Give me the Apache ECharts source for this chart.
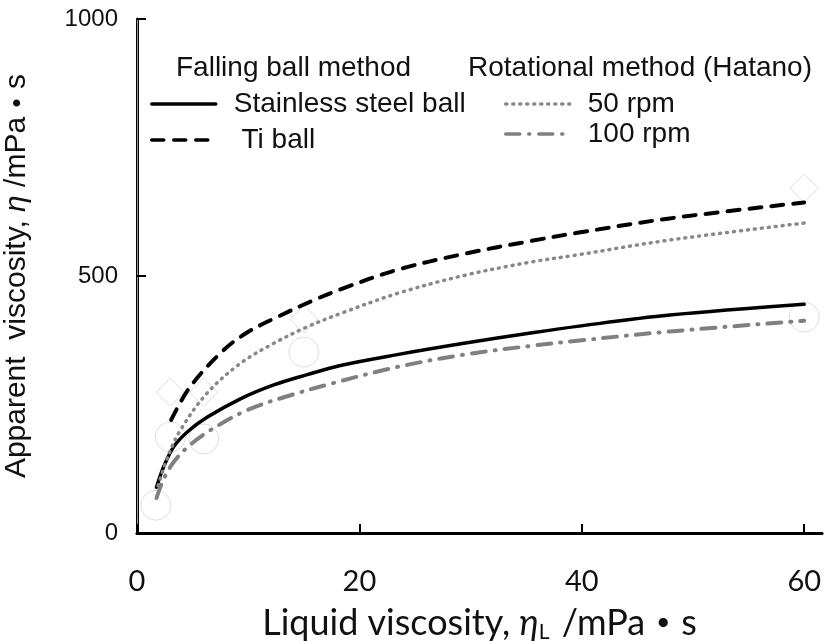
<!DOCTYPE html>
<html>
<head>
<meta charset="utf-8">
<script src="https://cdn.jsdelivr.net/npm/echarts@6/dist/echarts.min.js"></script>
<style>
  html, body { margin: 0; padding: 0; background: #fff; }
  #chart { width: 825px; height: 641px; }
</style>
</head>
<body>
<div id="chart"></div>
<script>
// fitted curves
var steelX = [1.75, 2.4, 3.3, 4.6, 6.3, 9.3, 12.3, 15.3, 18.3, 23.4, 29.4, 35.4, 39.6, 47.9, 60];
var steelY = [89, 129, 168, 198, 225, 261, 288, 308, 326, 347, 369, 389, 402, 424, 445];
var tiX = [3.07, 4.8, 7.8, 9.9, 12.3, 15.9, 18.3, 23.4, 29.4, 35.4, 39.6, 47.9, 60];
var tiY = [220, 285, 356, 390, 417, 453, 474, 512, 543, 568, 584, 612, 643];
var rpm50X = [1.9, 2.8, 3.9, 6.3, 9.3, 12.3, 15.3, 18.3, 23.4, 29.4, 35.4, 39.6, 47.9, 60];
var rpm50Y = [92, 150, 200, 272, 330, 369, 401, 427, 466, 501, 527, 541, 570, 603];
var rpm100X = [1.75, 2.4, 3.3, 4.6, 6.6, 9.9, 13.8, 17.7, 23.4, 29.4, 35.4, 39.6, 47.9, 60];
var rpm100Y = [68, 105, 138, 168, 200, 239, 268, 292, 323, 347, 364, 374, 392, 413];

// measured points (faint open markers)
var circleX = [1.7, 3, 6, 15, 60];
var circleY = [54, 187, 183, 352, 420];
var diamondX = [3, 6, 15, 60];
var diamondY = [274, 274, 416, 671];

var xTicks = [0, 20, 40, 60];
var yTicks = [0, 500, 1000];

function pairs(xs, ys) {
  var res = [];
  for (var i = 0; i < xs.length; i++) {
    res.push([xs[i], ys[i]]);
  }
  return res;
}

var chart = echarts.init(document.getElementById('chart'));
var font = 'Liberation Sans, Arial, sans-serif';
var xfont = 'Lato, sans-serif';

function lineSeries(name, xs, ys, color, width, type) {
  return {
    name: name,
    type: 'line',
    smooth: 0.35,
    symbol: 'none',
    showSymbol: false,
    z: 5,
    data: pairs(xs, ys),
    lineStyle: { color: color, width: width, type: type, cap: 'round' },
    itemStyle: { color: color }
  };
}

function legendAt(name, left, top, fmt) {
  return {
    data: [name],
    left: left,
    top: top,
    padding: 0,
    itemWidth: 64,
    itemHeight: 14,
    selectedMode: false,
    formatter: fmt || '{name}',
    itemStyle: { color: 'rgba(0,0,0,0)', borderColor: 'rgba(0,0,0,0)', borderWidth: 0 },
    lineStyle: { width: 3.5 },
    textStyle: { fontFamily: font, fontSize: 28, color: '#111', padding: [0, 0, 0, 13] }
  };
}

var option = {
  backgroundColor: '#fff',
  animation: false,
  grid: { left: 137, right: 3, top: 19, bottom: 108, outerBoundsMode: 'none' },
  title: [
    { text: 'Falling ball method', left: 176, top: 54, padding: 0,
      textStyle: { fontFamily: font, fontSize: 28, fontWeight: 'normal', color: '#111' } },
    { text: 'Rotational method (Hatano)', left: 468, top: 54, padding: 0,
      textStyle: { fontFamily: font, fontSize: 28, fontWeight: 'normal', color: '#111' } }
  ],
  legend: [
    legendAt('Stainless steel ball', 150, 90),
    legendAt('Ti ball', 150, 126, ' Ti ball'),
    legendAt('50 rpm', 504, 90),
    legendAt('100 rpm', 504, 120)
  ],
  xAxis: [{
    type: 'value',
    min: xTicks[0],
    max: 61.6,
    interval: 20,
    name: '{t|Liquid viscosity, }{i|η}{s|L}{t| /mPa}{d|・}{t|s}',
    nameLocation: 'middle',
    nameGap: 71,
    nameTextStyle: {
      rich: {
        t: { fontFamily: xfont, fontSize: 36, color: '#111' },
        i: { fontFamily: xfont, fontSize: 36, fontStyle: 'italic', color: '#111' },
        s: { fontFamily: xfont, fontSize: 21, color: '#111', padding: [18, 3, 0, 0] },
        d: { fontFamily: 'Noto Sans CJK JP, sans-serif', fontSize: 36, fontWeight: 'bold', color: '#111' }
      }
    },
    axisLine: { lineStyle: { color: '#000', width: 3 } },
    axisTick: { inside: true, length: 9, lineStyle: { color: '#000', width: 2 } },
    axisLabel: {
      margin: 34, showMaxLabel: false,
      fontFamily: xfont, fontSize: 29, color: '#111',
      formatter: function (v) { return xTicks.indexOf(v) >= 0 ? String(v) : ''; }
    },
    splitLine: { show: false }
  }, {
    type: 'value',
    position: 'top',
    min: 0,
    max: 61.6,
    axisLine: { lineStyle: { color: '#000', width: 2.5 } },
    axisTick: { show: false },
    axisLabel: { show: false },
    splitLine: { show: false }
  }],
  yAxis: [{
    type: 'value',
    min: yTicks[0],
    max: yTicks[yTicks.length - 1],
    interval: 500,
    name: '{t|Apparent  viscosity, }{i|η}{t| /mPa}{d|・}{t|s}',
    nameLocation: 'middle',
    nameGap: 105,
    nameTextStyle: {
      rich: {
        t: { fontFamily: font, fontSize: 30, color: '#111' },
        i: { fontFamily: font, fontSize: 30, fontStyle: 'italic', color: '#111' },
        d: { fontFamily: 'Noto Sans CJK JP, sans-serif', fontSize: 28, fontWeight: 'bold', color: '#111' }
      }
    },
    axisLine: { lineStyle: { color: '#000', width: 3 } },
    axisTick: { inside: true, length: 9, lineStyle: { color: '#000', width: 2 } },
    axisLabel: {
      margin: 19, fontFamily: font, fontSize: 24, color: '#111',
      formatter: function (v) { return String(v); }
    },
    splitLine: { show: false }
  }, {
    type: 'value',
    position: 'right',
    min: 0,
    max: 1000,
    axisLine: { show: true, lineStyle: { color: '#999', width: 1 } },
    axisTick: { show: false },
    axisLabel: { show: false },
    splitLine: { show: false }
  }],
  series: [
    {
      name: 'circles',
      type: 'scatter',
      symbol: 'circle',
      symbolSize: 30,
      z: 1,
      data: pairs(circleX, circleY),
      itemStyle: { color: '#fff', borderColor: '#d4d4d4', borderWidth: 1 }
    },
    {
      name: 'diamonds',
      type: 'scatter',
      symbol: 'diamond',
      symbolSize: [28, 28],
      z: 1,
      data: pairs(diamondX, diamondY),
      itemStyle: { color: '#fff', borderColor: '#d4d4d4', borderWidth: 1 }
    },
    lineSeries('Stainless steel ball', steelX, steelY, '#000', 3.5, 'solid'),
    lineSeries('Ti ball', tiX, tiY, '#000', 4, [12, 10]),
    lineSeries('50 rpm', rpm50X, rpm50Y, '#888', 3.5, [1, 6]),
    lineSeries('100 rpm', rpm100X, rpm100Y, '#808080', 4, [14, 9, 1, 9])
  ]
};
chart.setOption(option);
</script>
</body>
</html>
